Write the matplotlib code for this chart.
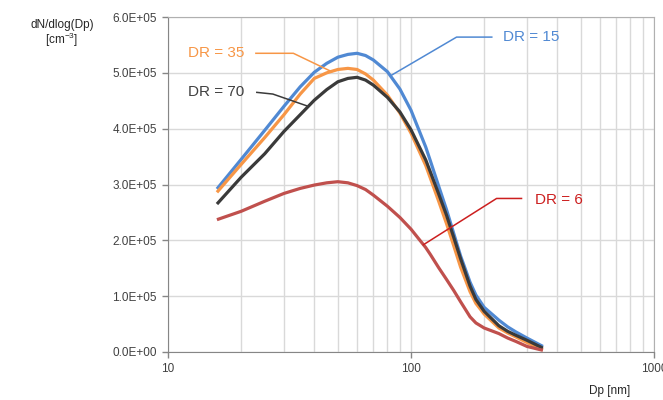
import matplotlib
matplotlib.use("Agg")
import matplotlib.pyplot as plt
from matplotlib.ticker import FuncFormatter, LogLocator, NullFormatter

plt.rcParams["font.family"] = ["Liberation Sans", "DejaVu Sans"]
plt.rcParams["mathtext.default"] = "regular"

# particle diameter [nm]
dp = [15.9, 20, 25, 30, 35, 40, 45, 50, 55, 60, 65, 70, 80, 90, 100, 115, 120, 130,
      140, 150, 160, 175, 185, 200, 230, 250, 270, 300, 349]

# dN/dlog(Dp) in units of 1e5 cm^-3
dr15 = [2.92, 3.45, 3.97, 4.40, 4.75, 5.01, 5.17, 5.28, 5.33, 5.35, 5.31, 5.23, 5.02, 4.71, 4.33, 3.67, 3.43, 2.97,
        2.55, 2.12, 1.72, 1.25, 1.02, 0.80, 0.57, 0.45, 0.36, 0.25, 0.10]
dr35 = [2.86, 3.36, 3.84, 4.25, 4.62, 4.90, 5.00, 5.06, 5.08, 5.06, 4.98, 4.87, 4.60, 4.28, 3.92, 3.34, 3.12, 2.70,
        2.30, 1.90, 1.52, 1.08, 0.87, 0.68, 0.43, 0.34, 0.27, 0.17, 0.04]
dr70 = [2.65, 3.13, 3.55, 3.95, 4.25, 4.51, 4.70, 4.84, 4.90, 4.92, 4.87, 4.78, 4.56, 4.30, 3.98, 3.44, 3.23, 2.83,
        2.45, 2.05, 1.67, 1.18, 0.94, 0.73, 0.47, 0.37, 0.30, 0.21, 0.07]
dr6 = [2.37, 2.52, 2.70, 2.84, 2.93, 2.99, 3.03, 3.05, 3.03, 2.98, 2.91, 2.81, 2.61, 2.41, 2.20, 1.87, 1.75, 1.51,
       1.30, 1.10, 0.90, 0.63, 0.52, 0.43, 0.33, 0.25, 0.19, 0.10, 0.03]

series = [
    ("DR = 15", dr15, "#5089d3", "#5089d3"),
    ("DR = 35", dr35, "#f79646", "#f79646"),
    ("DR = 70", dr70, "#3a3a3a", "#404040"),
    ("DR = 6", dr6, "#c0504d", "#cc1f1f"),
]

fig = plt.figure(figsize=(6.63, 4.0), dpi=100)
ax = fig.add_axes([168 / 663, 1 - 352 / 400, (654 - 168) / 663, (352 - 17) / 400])

for name, vals, col, _ in series:
    ax.plot(dp, [v * 1e5 for v in vals], color=col, lw=2.3,
            solid_capstyle="butt", solid_joinstyle="round", zorder=3)

ax.set_xscale("log")
ax.set_xlim(10, 1000)
ax.set_ylim(0, 6e5)
ax.set_yticks([i * 1e5 for i in range(7)])
ax.yaxis.set_major_formatter(FuncFormatter(lambda v, p: f"{v:.1E}"))
ax.xaxis.set_major_formatter(FuncFormatter(lambda v, p: f"{v:g}"))
ax.xaxis.set_minor_locator(LogLocator(base=10, subs=range(2, 10)))
ax.xaxis.set_minor_formatter(NullFormatter())

ax.grid(True, which="both", axis="x", color="#d9d9d9", lw=1)
ax.grid(True, which="major", axis="y", color="#d9d9d9", lw=1)
ax.set_axisbelow(True)

ax.tick_params(axis="both", which="major", direction="out", length=4, width=1,
               color="#868686", labelsize=8.5, labelcolor="#404040", pad=4)
ax.tick_params(axis="x", which="minor", length=0)

for s in ["left", "bottom"]:
    ax.spines[s].set_color("#868686")
for s in ["top", "right"]:
    ax.spines[s].set_color("#b0b0b0")

# leader lines and labels (data coordinates, values in 1e5)
labels = {
    "DR = 15": ([83.3, 154, 215], [4.96, 5.64, 5.64], (239, 5.64), "left"),
    "DR = 35": ([23.0, 32.8, 47.2], [5.35, 5.35, 5.02], (20.6, 5.35), "right"),
    "DR = 70": ([23.2, 27.0, 37.2], [4.65, 4.62, 4.41], (20.6, 4.65), "right"),
    "DR = 6": ([285, 225, 112.4], [2.75, 2.75, 1.92], (323, 2.73), "left"),
}
for name, vals, col, tcol in series:
    lx, ly, (tx, ty), ha = labels[name]
    lcol = "#cc1f1f" if name == "DR = 6" else col
    ax.plot(lx, [v * 1e5 for v in ly], color=lcol, lw=1.1, zorder=4)
    ax.text(tx, ty * 1e5, name, color=tcol, fontsize=11, ha=ha, va="center", zorder=5)

fig.text(62 / 663, 1 - 25 / 400, "dN/dlog(Dp)", ha="center", va="center", fontsize=8.5, color="#262626")
fig.text(62 / 663, 1 - 40 / 400, "[cm$^{-3}$]", ha="center", va="center", fontsize=8.5, color="#262626")
fig.text(610 / 663, 1 - 391 / 400, "Dp [nm]", ha="center", va="center", fontsize=8.5, color="#262626")

fig.savefig("out.png", dpi=100)
